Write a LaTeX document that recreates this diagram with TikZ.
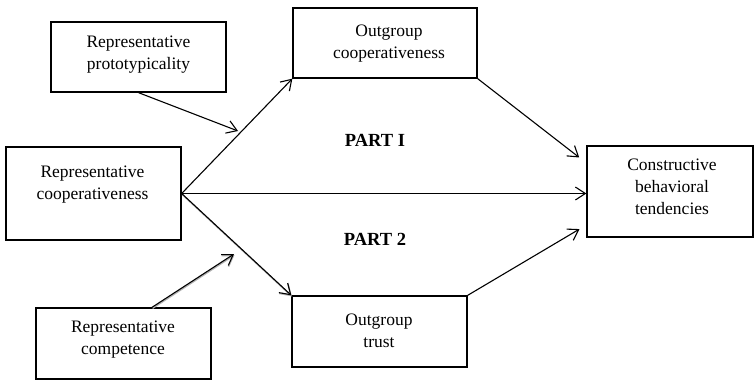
\documentclass[tikz,border=0pt]{standalone}
\usepackage{fontspec}
\setmainfont{Liberation Serif}
\usetikzlibrary{positioning,arrows.meta}
\tikzset{cbox/.style={draw,line width=1.3pt,inner sep=0pt},
	 ctext/.style={align=center,inner sep=0pt,anchor=north,font=\fontsize{17.5}{22}\selectfont},
	 cpart/.style={inner sep=0pt,font=\fontsize{18.5}{22}\selectfont\bfseries},
	 carrow/.style={line width=1.1pt,-{Straight Barb[length=10pt,width=13pt]}},
	 shadowed/.style={preaction={draw=gray!60,line width=1.4pt,transform canvas={shift={(0.5pt,-1pt)}}}}
	 }

\begin{document}
\begin{tikzpicture}[x=1pt,y=-1pt] % two-part mediation model
	\useasboundingbox (0,0) rectangle (754,381);
	\node[cbox,minimum width=175pt,minimum height=70pt] (proto) at (138.5,57) {};
	\node[cbox,minimum width=184pt,minimum height=70pt] (outcoop) at (385,43) {};
	\node[cbox,minimum width=175pt,minimum height=93pt] (repcoop) at (93.5,193.5) {};
	\node[cbox,minimum width=166pt,minimum height=91pt] (constr) at (670,191.5) {};
	\node[cbox,minimum width=175pt,minimum height=71pt] (trust) at (379.5,331.5) {};
	\node[cbox,minimum width=175pt,minimum height=71pt] (compet) at (123.5,343.5) {};
	\node[ctext] (protot) at (138.5,31.6) {\strut Representative\\prototypicality};
	\node[ctext] (outcoopt) at (389,20.6) {\strut Outgroup\\cooperativeness};
	\node[ctext] (repcoopt) at (92.5,161.6) {\strut Representative\\cooperativeness};
	\node[ctext] (constrt) at (672,154.6) {\strut Constructive\\behavioral\\tendencies};
	\node[ctext] (trustt) at (379,309.6) {\strut Outgroup\\trust};
	\node[ctext] (compett) at (123,316.6) {\strut Representative\\competence};
	\node[cpart] (part1) at (375,140) {PART I};
	\node[cpart] (part2) at (375,239) {PART 2};
	\coordinate (pin) at (238,131);
	\coordinate (cin) at (234,254);
	\draw[carrow] (repcoop.east) to (outcoop.south west);
	\draw[carrow] (repcoop.east) to (repcoop.east -| constr.west);
	\draw[carrow,shadowed] (repcoop.east) to (trust.north west);
	\draw[carrow] (proto.south) to (pin);
	\draw[carrow,shadowed] ([xshift=28.5pt]compet.north) to (cin);
	\draw[carrow,shorten >=9pt] (outcoop.south east) to ([yshift=28.5pt]constr.west);
	\draw[carrow,shorten >=8pt] (trust.north east) to ([yshift=-33.5pt]constr.west);
\end{tikzpicture}
\end{document}
